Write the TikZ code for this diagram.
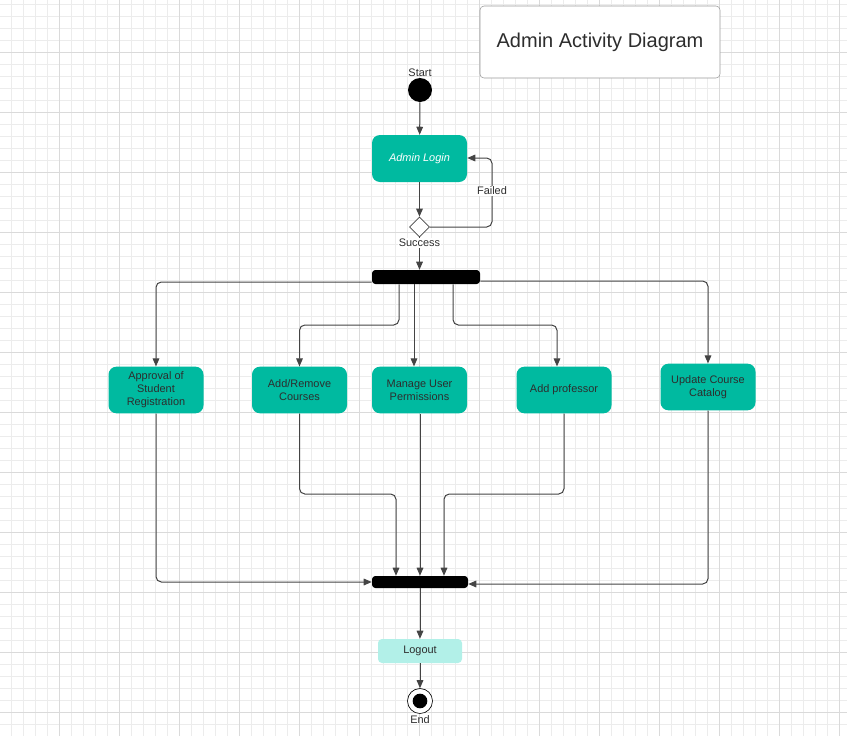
\documentclass[tikz,border=0pt]{standalone}
\usepackage{fontspec}
\setmainfont{Liberation Sans}
\usetikzlibrary{arrows.meta,shapes.geometric,positioning}
\definecolor{teal1}{RGB}{0,186,160}
\definecolor{cyan1}{RGB}{178,240,232}
\definecolor{lineg}{RGB}{68,68,68}
\definecolor{txtg}{RGB}{45,45,45}
\definecolor{gridminor}{RGB}{236,236,236}
\definecolor{gridmajor}{RGB}{218,218,218}
\begin{document}
\begin{tikzpicture}[x=0.75pt,y=-0.75pt,
  actbox/.style={draw=none,fill=teal1,rounded corners=6pt,minimum width=71.25pt,minimum height=35pt,align=center,font=\fontsize{8.2}{9.8}\selectfont,text=txtg,inner sep=0pt},
  bar/.style={fill=black,rounded corners=2.5pt,inner sep=0pt},
  conn/.style={draw=lineg,line width=0.75pt,rounded corners=4pt,-{Triangle[length=6pt,width=5pt]}},
  lbl/.style={font=\fontsize{8.2}{9.8}\selectfont,text=txtg,inner sep=1pt}
]
\useasboundingbox (0,0) rectangle (847,736);
\fill[white] (0,0) rectangle (847,736);
% grid
\foreach \x in {11,23,...,847} \draw[gridminor,line width=0.6pt] (\x,0) -- (\x,736);
\foreach \y in {4,16,...,736} \draw[gridminor,line width=0.6pt] (0,\y) -- (847,\y);
\foreach \x in {59,119,...,847} \draw[gridmajor,line width=0.6pt] (\x,0) -- (\x,736);
\foreach \y in {52,112,...,736} \draw[gridmajor,line width=0.6pt] (0,\y) -- (847,\y);

% title
\node[draw=gray!80,fill=white,rounded corners=3pt,minimum width=180pt,minimum height=54pt,inner sep=0pt,font=\fontsize{15}{18}\selectfont,text=txtg] (title) at (600,42) {Admin Activity Diagram};

% start
\node[circle,fill=black,minimum size=18pt,inner sep=0pt] (start) at (420,90) {};
\node[lbl,above=0pt of start] (startlbl) {Start};

% login
\node[actbox,minimum width=71.25pt,minimum height=35.25pt,text=white,font=\fontsize{8.2}{9.8}\selectfont\itshape] (login) at (419.5,158.5) {Admin Login};

% decision
\node[diamond,draw=lineg,fill=white,line width=0.6pt,minimum width=15pt,minimum height=15pt,inner sep=0pt] (dec) at (419.5,227) {};

% fork bar
\node[bar,minimum width=81pt,minimum height=10.5pt] (fork) at (426,277) {};

% activity boxes
\node[actbox] (appr) at (156,390) {Approval of\\Student\\Registration};
\node[actbox] (addrem) at (299.5,390) {Add/Remove\\Courses};
\node[actbox] (manage) at (419.5,390) {Manage User\\Permissions};
\node[actbox] (addprof) at (564,390) {Add professor};
\node[actbox] (upd) at (708,387) {Update Course\\Catalog};

% join bar
\node[bar,minimum width=72pt,minimum height=9pt] (join) at (420,582) {};

% logout
\node[fill=cyan1,rounded corners=3pt,minimum width=63pt,minimum height=18pt,inner sep=0pt,font=\fontsize{8.2}{9.8}\selectfont,text=txtg] (logout) at (420,651) {Logout};

% end
\node[circle,draw=black,fill=white,line width=0.5pt,minimum size=18.75pt,inner sep=0pt] (endo) at (420,701) {};
\node[circle,fill=black,minimum size=11pt,inner sep=0pt] (endi) at (420,701) {};
\node[lbl,below=0pt of endo] (endlbl) {End};

% connectors
\draw[conn] (start) -- (login);
\draw[conn] (login) -- (dec);
\draw[conn] (dec.east) -- (492,227) -- (492,158) -- (login.east |- 0,158);
\node[lbl,fill=white] (failed) at (492,191) {Failed};
\draw[conn] (dec.south) -- (fork.north -| dec.south);
\node[lbl,fill=white] (success) at (419.5,243) {Success};

\draw[conn] (fork.west |- 0,282) -- (156,282) -- (appr.north);
\draw[conn] (fork.south -| 399,0) -- (399,325) -- (299.5,325) -- (addrem.north);
\draw[conn] (fork.south -| 414,0) -- (manage.north -| 414,0);
\draw[conn] (fork.south -| 453,0) -- (453,325) -- (557,325) -- (addprof.north -| 557,0);
\draw[conn] (fork.east |- 0,281) -- (708,281) -- (upd.north);

\draw[conn] (appr.south) -- (156,582) -- (join.west);
\draw[conn] (addrem.south) -- (299.5,494) -- (396,494) -- (join.north -| 396,0);
\draw[conn] (manage.south -| 420,0) -- (join.north);
\draw[conn] (addprof.south -| 564,0) -- (564,494) -- (444,494) -- (join.north -| 444,0);
\draw[conn] (upd.south) -- (708,584) -- (join.east |- 0,584);

\draw[conn] (join) -- (logout);
\draw[conn] (logout) -- (endo);
\end{tikzpicture}
\end{document}
